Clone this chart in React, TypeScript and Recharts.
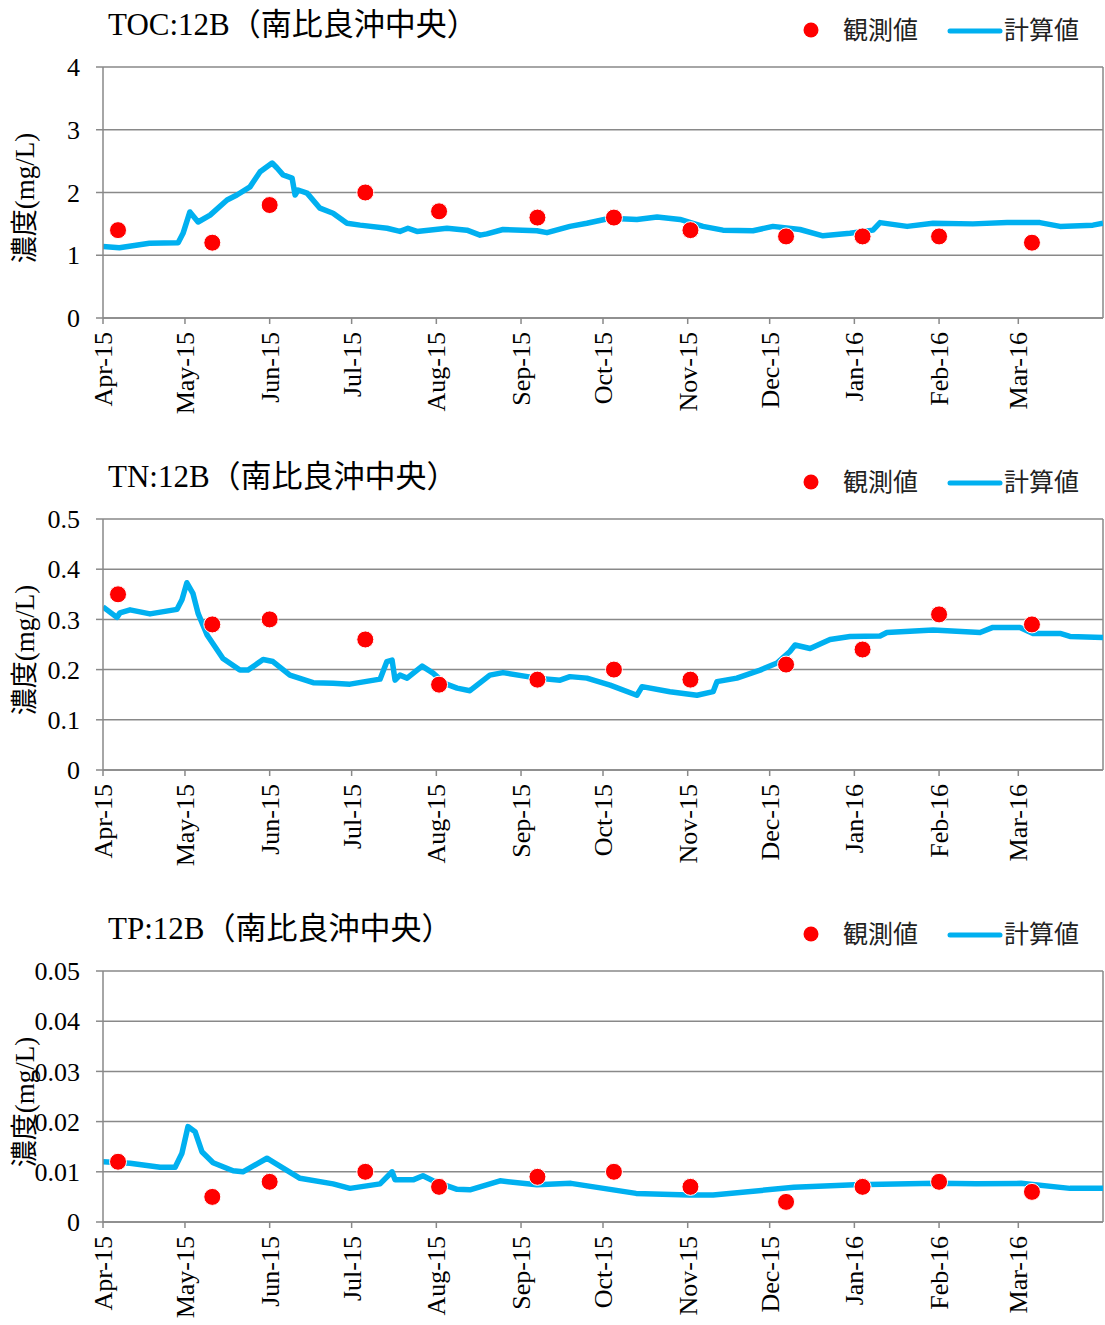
import React from "react";
import { ComposedChart, Line, Scatter, XAxis, YAxis, CartesianGrid, ReferenceLine } from "recharts";

// x values are day offsets from 2015-04-01
const monthTicks = [0, 30, 61, 91, 122, 153, 183, 214, 244, 275, 306, 335];
const monthLabels = ["Apr-15", "May-15", "Jun-15", "Jul-15", "Aug-15", "Sep-15", "Oct-15", "Nov-15", "Dec-15", "Jan-16", "Feb-16", "Mar-16"];

// observation days (shared by all three items)
const obsDays = [5.5, 40, 61, 96, 123, 159, 187, 215, 250, 278, 306, 340];

const tocObs = [1.4, 1.2, 1.8, 2.0, 1.7, 1.6, 1.6, 1.4, 1.3, 1.3, 1.3, 1.2];
const tnObs = [0.35, 0.29, 0.3, 0.26, 0.17, 0.18, 0.2, 0.18, 0.21, 0.24, 0.31, 0.29];
const tpObs = [0.012, 0.005, 0.008, 0.01, 0.007, 0.009, 0.01, 0.007, 0.004, 0.007, 0.008, 0.006];

const tocCalcDays = [0, 6, 17, 27.5, 29.3, 31.8, 34.8, 39.2, 45.4, 49, 53.8, 57.5, 61.9, 63.7, 65.9, 69.2, 70.3, 71.4, 74.7, 79.4, 84.2, 89.3, 94.1, 104, 108.7, 111.6, 114.9, 125.9, 133.2, 138, 140.5, 146.4, 158.8, 162.5, 170.9, 177.1, 185.6, 195.4, 202.8, 211.2, 219.6, 226.9, 237.9, 245.2, 255.1, 263.5, 273.4, 281.8, 284.4, 294.3, 303.8, 318.4, 330.9, 342.9, 350.3, 362.3, 366];
const tocCalc = [1.14, 1.12, 1.19, 1.2, 1.35, 1.69, 1.53, 1.64, 1.88, 1.96, 2.09, 2.33, 2.47, 2.39, 2.28, 2.23, 1.96, 2.04, 1.99, 1.75, 1.67, 1.51, 1.48, 1.43, 1.38, 1.43, 1.38, 1.43, 1.4, 1.32, 1.34, 1.41, 1.39, 1.36, 1.46, 1.51, 1.59, 1.57, 1.61, 1.57, 1.46, 1.4, 1.39, 1.46, 1.41, 1.31, 1.35, 1.4, 1.52, 1.46, 1.51, 1.5, 1.52, 1.52, 1.46, 1.48, 1.51];

const tnCalcDays = [0, 5.1, 6.2, 9.9, 17.2, 27.1, 28.9, 30.7, 32.9, 34.8, 38.1, 43.9, 50.1, 53.1, 58.6, 62.2, 68.4, 76.9, 84.2, 90.4, 101.4, 103.9, 105.8, 106.9, 108.7, 111.3, 116.8, 120.8, 125.2, 129.6, 134.3, 141.6, 146.4, 158.8, 167.3, 170.9, 177.1, 185.6, 195.4, 197.3, 207.5, 217.4, 223.3, 224.7, 232, 240.5, 246.7, 251.4, 253.3, 258.8, 266.1, 273.4, 284.4, 286.9, 303.8, 321, 325.7, 335.6, 340.4, 350.3, 353.9, 366];
const tnCalc = [0.325, 0.304, 0.313, 0.319, 0.311, 0.32, 0.339, 0.373, 0.352, 0.312, 0.269, 0.222, 0.199, 0.199, 0.22, 0.216, 0.189, 0.174, 0.173, 0.171, 0.181, 0.216, 0.219, 0.179, 0.189, 0.183, 0.207, 0.193, 0.172, 0.163, 0.158, 0.189, 0.194, 0.183, 0.179, 0.186, 0.183, 0.169, 0.149, 0.166, 0.156, 0.149, 0.156, 0.176, 0.183, 0.199, 0.213, 0.236, 0.249, 0.242, 0.26, 0.266, 0.267, 0.274, 0.279, 0.274, 0.284, 0.284, 0.272, 0.272, 0.266, 0.264];

const tpCalcDays = [0, 9.9, 20.9, 26.4, 28.9, 31.1, 33.7, 36.2, 40.3, 47.6, 51.2, 60, 62.2, 72.1, 84.2, 90.4, 101.4, 105.8, 106.9, 113.5, 117.1, 120.8, 129.6, 134.3, 145.3, 158.8, 171.3, 195.1, 214.5, 223.3, 252.9, 275.2, 304.9, 319.5, 336, 353.9, 366];
const tpCalc = [0.012, 0.0117, 0.0109, 0.0109, 0.0137, 0.019, 0.018, 0.014, 0.0118, 0.0102, 0.01, 0.0127, 0.012, 0.0087, 0.0076, 0.0067, 0.0076, 0.01, 0.0084, 0.0084, 0.0092, 0.0082, 0.0065, 0.0064, 0.0082, 0.0074, 0.0077, 0.0057, 0.0054, 0.0054, 0.0069, 0.0074, 0.0077, 0.0076, 0.0077, 0.0067, 0.0067];

const tocTicks = [0, 1, 2, 3, 4];
const tnTicks = [0, 0.1, 0.2, 0.3, 0.4, 0.5];
const tpTicks = [0, 0.01, 0.02, 0.03, 0.04, 0.05];

const SERIF = "'Liberation Serif', 'Times New Roman', serif";
const JP = "'Noto Sans CJK JP', sans-serif";
const MIXED = `'Liberation Serif', ${JP}`;
const GRID = "#898989";
const BLUE = "#00B0F0";

const W = 1105;
const H = 452;

const MonthTick = (props: any) => {
  const { x, y, payload } = props;
  const i = monthTicks.indexOf(payload.value);
  return (
    <text
      transform={`translate(${x},${y + 6}) rotate(-90)`}
      textAnchor="end"
      dy="0.35em"
      fontSize={26}
      fontFamily={SERIF}
      fill="#000"
    >
      {monthLabels[i]}
    </text>
  );
};

const RedDot = (props: any) => {
  const { cx, cy } = props;
  if (cx == null || cy == null) return null;
  return <circle cx={cx} cy={cy} r={8.5} fill="#FF0000" stroke="#fff" strokeWidth={1} />;
};

interface PanelProps {
  title: string;
  calcDays: number[];
  calcValues: number[];
  obsValues: number[];
  yTicks: number[];
}

function Panel({ title, calcDays, calcValues, obsValues, yTicks }: PanelProps) {
  const calcRows = calcDays.map((d, i) => ({ day: d, v: calcValues[i] }));
  const obsRows = obsDays.map((d, i) => ({ day: d, v: obsValues[i] }));
  const yMax = yTicks[yTicks.length - 1];

  return (
    <div style={{ position: "relative", width: W, height: H }}>
      <ComposedChart width={W} height={H} margin={{ top: 67, right: 2, bottom: 0, left: 0 }}>
        <CartesianGrid vertical={false} stroke={GRID} strokeWidth={1.5} />
        <XAxis
          type="number"
          dataKey="day"
          domain={[0, 366]}
          ticks={monthTicks}
          interval={0}
          height={134}
          stroke={GRID}
          strokeWidth={1.5}
          tickSize={6}
          tick={<MonthTick />}
          allowDataOverflow
        />
        <YAxis
          type="number"
          domain={[0, yMax]}
          ticks={yTicks}
          interval={0}
          width={103}
          stroke={GRID}
          strokeWidth={1.5}
          tickSize={7}
          tickMargin={16}
          tick={{ fontSize: 26, fontFamily: SERIF, fill: "#000" }}
          tickFormatter={(v: number) => String(v)}
        />
        <ReferenceLine x={366} stroke={GRID} strokeWidth={1.5} />
        <Line
          data={calcRows}
          dataKey="v"
          type="linear"
          stroke={BLUE}
          strokeWidth={5.5}
          strokeLinejoin="round"
          dot={false}
          isAnimationActive={false}
        />
        <Scatter data={obsRows} dataKey="v" shape={<RedDot />} isAnimationActive={false} />
      </ComposedChart>

      <div style={{ position: "absolute", left: 108, top: 6, fontSize: 31, fontFamily: MIXED, lineHeight: "38px", whiteSpace: "nowrap" }}>
        {title}
      </div>

      <svg style={{ position: "absolute", left: 0, top: 0, pointerEvents: "none" }} width={W} height={60}>
        <circle cx={811} cy={30} r={7.5} fill="#FF0000" />
        <text x={843} y={30} dy="0.35em" fontSize={25} fontFamily={JP} fill="#222">観測値</text>
        <line x1={950} y1={31} x2={1000} y2={31} stroke={BLUE} strokeWidth={5} strokeLinecap="round" />
        <text x={1004} y={30} dy="0.35em" fontSize={25} fontFamily={JP} fill="#222">計算値</text>
      </svg>

      <div
        style={{
          position: "absolute",
          left: 25,
          top: 198,
          transform: "translate(-50%, -50%) rotate(-90deg)",
          fontSize: 27,
          fontFamily: MIXED,
          whiteSpace: "nowrap",
          lineHeight: "30px",
        }}
      >
        濃度(mg/L)
      </div>
    </div>
  );
}

export default function App() {
  return (
    <div style={{ width: W, height: 1325, overflow: "hidden", background: "#fff" }}>
      <style>{"body{margin:0;}"}</style>
      <Panel title="TOC:12B（南比良沖中央）" calcDays={tocCalcDays} calcValues={tocCalc} obsValues={tocObs} yTicks={tocTicks} />
      <Panel title="TN:12B（南比良沖中央）" calcDays={tnCalcDays} calcValues={tnCalc} obsValues={tnObs} yTicks={tnTicks} />
      <Panel title="TP:12B（南比良沖中央）" calcDays={tpCalcDays} calcValues={tpCalc} obsValues={tpObs} yTicks={tpTicks} />
    </div>
  );
}
